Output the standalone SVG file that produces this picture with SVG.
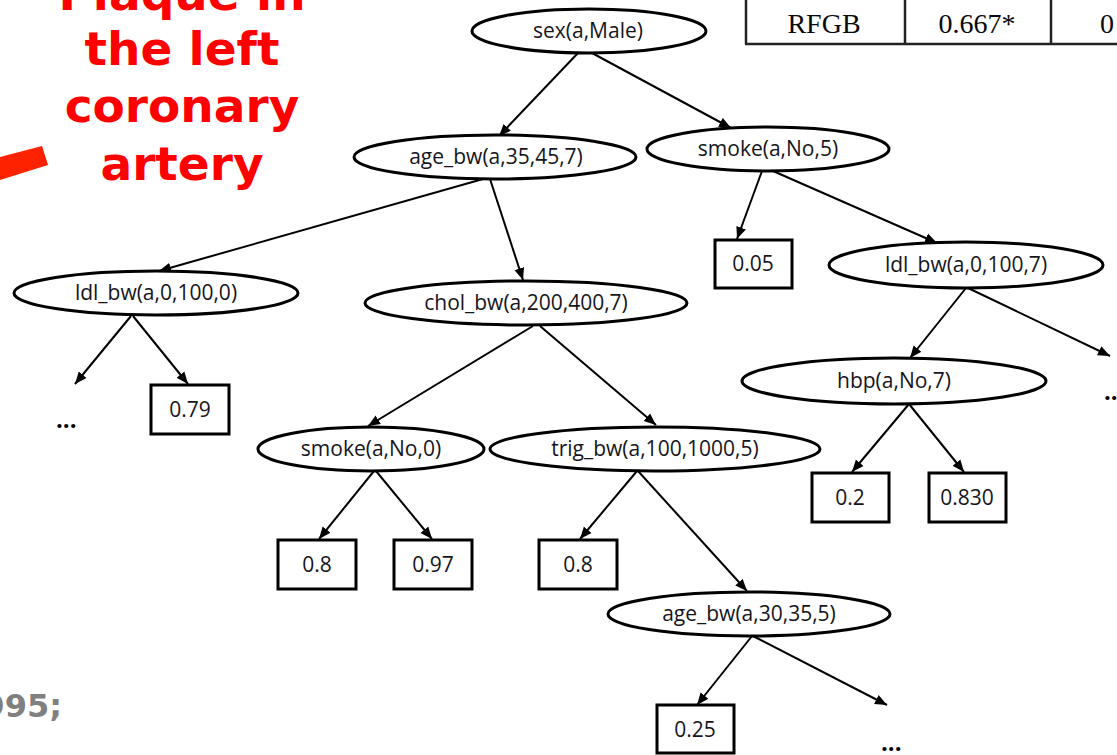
<svg xmlns="http://www.w3.org/2000/svg" width="1117" height="755" viewBox="0 0 1117 755">
  <style>
    .node ellipse { fill: #fff; stroke: #000; stroke-width: 3; }
    .leaf rect { fill: #fff; stroke: #000; stroke-width: 3; }
    .lbl { font-family: "Open Sans", "Noto Sans", sans-serif; font-size: 21px; fill: #151520; text-anchor: middle; }
    .dots { font-family: "Open Sans", sans-serif; font-size: 24px; font-weight: bold; fill: #000; }
    .title { font-family: "DejaVu Sans", Verdana, sans-serif; font-weight: bold; font-size: 47px; fill: #ff0000; text-anchor: middle; }
    .cite { font-family: "DejaVu Sans", Verdana, sans-serif; font-weight: bold; font-size: 32px; fill: #808080; text-anchor: end; }
    .tbl { font-family: "Liberation Serif", "Times New Roman", serif; font-size: 28px; fill: #0a0a0a; text-anchor: middle; }
    .edges line { stroke: #000; stroke-width: 2; marker-end: url(#arrow); }
  </style>
  <defs>
    <marker id="arrow" markerUnits="userSpaceOnUse" markerWidth="13" markerHeight="11" refX="12" refY="5.5" orient="auto">
      <path d="M0,0.5 L12,5.5 L0,10.5 z" fill="#000"/>
    </marker>
  </defs>

  <rect width="1117" height="755" fill="#fff"/>

  <!-- title in red, top left -->
  <g id="title">
    <text class="title" x="182" y="10">Plaque in</text>
    <text class="title" x="182" y="65">the left</text>
    <text class="title" x="182" y="122">coronary</text>
    <text class="title" x="182" y="180">artery</text>
    <polygon points="0,157 42,146 48,165 0,180" fill="#ff2200"/>
  </g>

  <!-- citation fragment -->
  <text class="cite" x="62" y="717">995;</text>

  <!-- results table corner -->
  <g id="table" stroke="#222" stroke-width="2.5" fill="none">
    <line x1="746" y1="0" x2="746" y2="44"/>
    <line x1="905" y1="0" x2="905" y2="44"/>
    <line x1="1051" y1="0" x2="1051" y2="44"/>
    <line x1="745" y1="44" x2="1117" y2="44"/>
  </g>
  <text class="tbl" x="824" y="33">RFGB</text>
  <text class="tbl" x="977" y="33">0.667*</text>
  <text class="tbl" x="1100" y="33" style="text-anchor:start">0</text>

  <!-- connectors -->
  <g class="edges">
    <line x1="578" y1="53" x2="499" y2="136"/>
    <line x1="592" y1="53" x2="731" y2="128"/>
    <line x1="483" y1="179" x2="159" y2="271"/>
    <line x1="490" y1="179" x2="523" y2="280"/>
    <line x1="762" y1="171" x2="737" y2="239"/>
    <line x1="773" y1="171" x2="937" y2="243"/>
    <line x1="131" y1="316" x2="75" y2="384"/>
    <line x1="133" y1="316" x2="188" y2="384"/>
    <line x1="533" y1="326" x2="368" y2="426"/>
    <line x1="540" y1="326" x2="656" y2="425"/>
    <line x1="966" y1="288" x2="910" y2="358"/>
    <line x1="968" y1="288" x2="1110" y2="356"/>
    <line x1="909" y1="404" x2="852" y2="472"/>
    <line x1="909" y1="404" x2="964" y2="472"/>
    <line x1="374" y1="471" x2="319" y2="539"/>
    <line x1="376" y1="471" x2="432" y2="539"/>
    <line x1="637" y1="471" x2="580" y2="539"/>
    <line x1="638" y1="471" x2="747" y2="591"/>
    <line x1="752" y1="636" x2="697" y2="705"/>
    <line x1="753" y1="636" x2="887" y2="705"/>
  </g>

  <!-- decision nodes -->
  <g id="n-sex" class="node"><ellipse cx="589" cy="31" rx="117" ry="22"/><text class="lbl" x="588" y="38">sex(a,Male)</text></g>
  <g id="n-age1" class="node"><ellipse cx="495" cy="157" rx="141" ry="22"/><text class="lbl" x="496" y="164">age_bw(a,35,45,7)</text></g>
  <g id="n-smoke5" class="node"><ellipse cx="768" cy="149" rx="121" ry="22"/><text class="lbl" x="768" y="156">smoke(a,No,5)</text></g>
  <g id="n-ldl0" class="node"><ellipse cx="156" cy="293" rx="142" ry="22"/><text class="lbl" x="156" y="300">ldl_bw(a,0,100,0)</text></g>
  <g id="n-chol" class="node"><ellipse cx="526" cy="303" rx="161" ry="22"/><text class="lbl" x="526" y="310">chol_bw(a,200,400,7)</text></g>
  <g id="n-ldl7" class="node"><ellipse cx="966" cy="265" rx="137" ry="23"/><text class="lbl" x="966" y="272">ldl_bw(a,0,100,7)</text></g>
  <g id="n-hbp" class="node"><ellipse cx="894" cy="381" rx="152" ry="23"/><text class="lbl" x="894" y="388">hbp(a,No,7)</text></g>
  <g id="n-smoke0" class="node"><ellipse cx="371" cy="449" rx="113" ry="22"/><text class="lbl" x="371" y="456">smoke(a,No,0)</text></g>
  <g id="n-trig" class="node"><ellipse cx="655" cy="449" rx="165" ry="22"/><text class="lbl" x="655" y="456">trig_bw(a,100,1000,5)</text></g>
  <g id="n-age2" class="node"><ellipse cx="749" cy="614" rx="141" ry="22"/><text class="lbl" x="749" y="621">age_bw(a,30,35,5)</text></g>

  <!-- leaf values -->
  <g id="l-005" class="leaf"><rect x="715" y="240" width="77" height="48"/><text class="lbl" x="753" y="271">0.05</text></g>
  <g id="l-079" class="leaf"><rect x="151" y="385" width="78" height="49"/><text class="lbl" x="190" y="417">0.79</text></g>
  <g id="l-02" class="leaf"><rect x="812" y="473" width="77" height="49"/><text class="lbl" x="850" y="505">0.2</text></g>
  <g id="l-0830" class="leaf"><rect x="929" y="473" width="77" height="49"/><text class="lbl" x="967" y="505">0.830</text></g>
  <g id="l-08a" class="leaf"><rect x="278" y="540" width="78" height="49"/><text class="lbl" x="317" y="572">0.8</text></g>
  <g id="l-097" class="leaf"><rect x="394" y="540" width="78" height="49"/><text class="lbl" x="433" y="572">0.97</text></g>
  <g id="l-08b" class="leaf"><rect x="539" y="540" width="78" height="49"/><text class="lbl" x="578" y="572">0.8</text></g>
  <g id="l-025" class="leaf"><rect x="657" y="705" width="77" height="48"/><text class="lbl" x="695" y="737">0.25</text></g>

  <!-- elided subtrees -->
  <text class="dots" x="56" y="428">...</text>
  <text class="dots" x="1104" y="400">...</text>
  <text class="dots" x="881" y="751">...</text>
</svg>
